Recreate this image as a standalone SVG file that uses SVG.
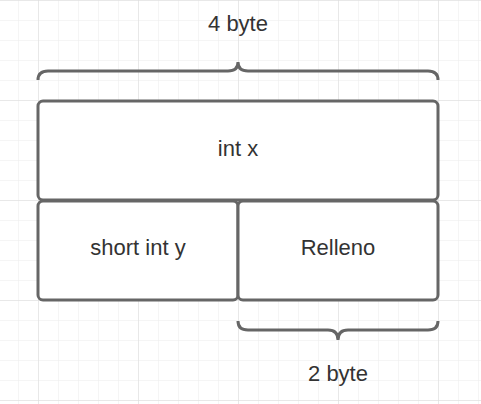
<svg xmlns="http://www.w3.org/2000/svg" width="481" height="404" viewBox="0 0 481 404">
<defs>
<pattern id="minor" x="18" y="0" width="20" height="20" patternUnits="userSpaceOnUse">
<path d="M0,0 H20 M0,0 V20" fill="none" stroke="#ebebeb" stroke-width="1"/>
</pattern>
<pattern id="major" x="38" y="0" width="100" height="100" patternUnits="userSpaceOnUse">
<path d="M0,0 H100 M0,0 V100" fill="none" stroke="#dcdcdc" stroke-width="1"/>
</pattern>
</defs>
<style>
.box{fill:#ffffff;stroke:#666666;stroke-width:3}
.brace{fill:none;stroke:#666666;stroke-width:3}
.t{font-family:"Liberation Sans",Arial,sans-serif;font-size:22px;fill:#333333;text-anchor:middle}
</style>
<rect width="481" height="404" fill="#ffffff"/>
<rect width="481" height="404" fill="url(#minor)"/>
<rect width="481" height="404" fill="url(#major)"/>
<g id="connectors"></g>
<g id="brace-top">
<path class="brace" d="M38,80 Q38,71 48,71 L228,71 Q238,71 238,62 Q238,71 248,71 L428,71 Q438,71 438,80"/>
<text class="t" x="238" y="31">4 byte</text>
</g>
<g id="int-x">
<rect class="box" x="38" y="101" width="400" height="99" rx="5"/>
<text class="t" x="238" y="156">int x</text>
</g>
<g id="short-int-y">
<rect class="box" x="38" y="201" width="200" height="99" rx="5"/>
<text class="t" x="138" y="255">short int y</text>
</g>
<g id="relleno">
<rect class="box" x="238" y="201" width="200" height="99" rx="5"/>
<text class="t" x="338" y="255">Relleno</text>
</g>
<g id="brace-bottom">
<path class="brace" d="M238,321 Q238,330 248,330 L328,330 Q338,330 338,340 Q338,330 348,330 L428,330 Q438,330 438,321"/>
<text class="t" x="338" y="381">2 byte</text>
</g>
</svg>
